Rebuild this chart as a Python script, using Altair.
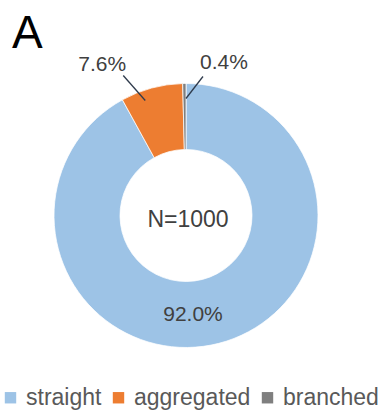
import math

import altair as alt
import pandas as pd

# ---- data -------------------------------------------------------------
categories = ["straight", "aggregated", "branched"]
shares = [92.0, 7.6, 0.4]          # percent of filaments
sample_size = 1000
panel_letter = "A"

# ---- styling / layout -------------------------------------------------
colors = ["#9DC3E6", "#ED7D31", "#7F7F7F"]
FONT = "Liberation Sans"
TEXT_COLOR = "#404040"
CX, CY = 186, 215.5                 # ring centre in pixels
R_OUT, R_IN = 132, 66

# where each percentage label sits: angular nudge from the slice middle,
# radius of the anchor, and (for outside labels) a leader line offset
label_layout = {
    "straight": {"turn": 10.4, "r": 100, "leader": None},
    "aggregated": {"turn": -4.4, "r": 122, "leader": (-22, -25), "shift": (-21, -11)},
    "branched": {"turn": 0.7, "r": 117, "leader": (17, -22), "shift": (21, -14)},
}

df = pd.DataFrame({"category": categories, "share": shares, "order": range(len(categories))})
df["label"] = df["share"].map(lambda v: f"{v:.1f}%")

# slice middles, clockwise from 12 o'clock
cum = df["share"].cumsum()
df["mid_deg"] = (cum - df["share"] / 2) / 100 * 360

rows_text, rows_rule = [], []
for _, row in df.iterrows():
    lay = label_layout[row["category"]]
    ang = math.radians(row["mid_deg"] + lay["turn"])
    ax = CX + lay["r"] * math.sin(ang)
    ay = CY - lay["r"] * math.cos(ang)
    if lay["leader"] is None:
        rows_text.append({"label": row["label"], "px": ax, "py": ay})
    else:
        ex, ey = ax + lay["leader"][0], ay + lay["leader"][1]
        rows_rule.append({"px": ax, "py": ay, "px2": ex, "py2": ey})
        rows_text.append({"label": row["label"],
                          "px": ex + lay["shift"][0], "py": ey + lay["shift"][1]})

text_df = pd.DataFrame(rows_text)
rule_df = pd.DataFrame(rows_rule)

# ---- marks ------------------------------------------------------------
ring = alt.Chart(df).mark_arc(
    outerRadius=R_OUT, innerRadius=R_IN, stroke="white", strokeWidth=0.75
).encode(
    theta=alt.Theta("share:Q", stack=True),
    order=alt.Order("order:Q"),
    color=alt.Color(
        "category:N",
        scale=alt.Scale(domain=categories, range=colors),
        legend=alt.Legend(
            orient="none", legendX=-1, legendY=386, direction="horizontal",
            title=None, symbolType="square", symbolSize=130, symbolStrokeWidth=0,
            labelFont=FONT, labelFontSize=23, labelColor="#595959",
            labelOffset=4, columnPadding=5, padding=0,
        ),
    ),
    x=alt.value(CX),
    y=alt.value(CY),
)

leaders = alt.Chart(rule_df).mark_rule(color="#2F3B4C", strokeWidth=1.3).encode(
    x=alt.X("px:Q", scale=None), y=alt.Y("py:Q", scale=None),
    x2="px2:Q", y2="py2:Q",
)

pct = alt.Chart(text_df).mark_text(
    font=FONT, fontSize=21, color=TEXT_COLOR, align="center", baseline="middle"
).encode(
    x=alt.X("px:Q", scale=None), y=alt.Y("py:Q", scale=None), text="label:N"
)

centre = alt.Chart(pd.DataFrame({"t": [f"N={sample_size}"]})).mark_text(
    font=FONT, fontSize=23, color=TEXT_COLOR, align="center", baseline="middle"
).encode(x=alt.value(CX + 2), y=alt.value(CY + 4), text="t:N")

letter = alt.Chart(pd.DataFrame({"t": [panel_letter]})).mark_text(
    font=FONT, fontSize=46, color="#000000", align="left", baseline="alphabetic"
).encode(x=alt.value(12), y=alt.value(48), text="t:N")

chart = alt.layer(ring, leaders, pct, centre, letter).properties(
    width=379, height=411, autosize=alt.AutoSizeParams(type="none"), padding=0,
    background="white",
).configure_view(stroke=None)

chart.save("out.html", embed_options={"renderer": "svg", "actions": False})
